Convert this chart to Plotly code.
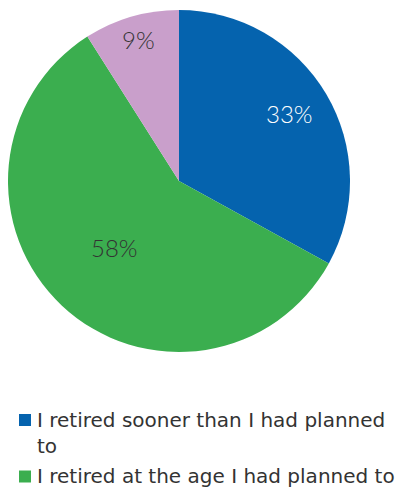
import math
import plotly.graph_objects as go

labels = [
    "I retired sooner than I had planned to",
    "I retired at the age I had planned to",
    "I retired later than I had planned to",
]
legend_text = [
    "I retired sooner than I had planned<br>to",
    "I retired at the age I had planned to",
    "I retired later than I had planned to",
]
values = [33, 58, 9]
colors = ["#0563AE", "#3BAE4F", "#C99FCB"]
text_colors = ["#FFFFFF", "#333333", "#333333"]
# how far out (fraction of radius) each percent label sits
label_radius = [0.75, 0.55, 0.85]

W, H = 404, 491
OFF = 8  # the page body adds an 8px margin, shift everything back by that

# pie box in pixels (as seen in the reference)
px0, px1, py0, py1 = 8, 350, 10, 352
cx, cy, R = (px0 + px1) / 2, (py0 + py1) / 2, (px1 - px0) / 2

fig = go.Figure(
    go.Pie(
        labels=labels,
        values=values,
        sort=False,
        direction="clockwise",
        rotation=0,
        marker=dict(colors=colors, line=dict(width=0)),
        textinfo="none",
        domain=dict(x=[(px0 - OFF) / W, (px1 - OFF) / W],
                    y=[1 - (py1 - OFF) / H, 1 - (py0 - OFF) / H]),
        showlegend=False,
        hoverinfo="label+percent",
    )
)

# percent labels, placed at each slice's middle angle
total = sum(values)
cum = 0
for v, tc, f in zip(values, text_colors, label_radius):
    mid = (cum + v / 2) / total * 2 * math.pi
    cum += v
    x = cx + f * R * math.sin(mid)
    y = cy - f * R * math.cos(mid)
    fig.add_annotation(
        text=f"{v}%", xref="paper", yref="paper",
        x=(x - OFF) / W, y=1 - (y - 2 - OFF) / H,
        xanchor="center", yanchor="middle", showarrow=False,
        font=dict(family="Lato", size=24, weight=300, color=tc),
    )

# legend drawn by hand: small square + label
item_y = [420, 476.5, 533]
for txt, col, yc in zip(legend_text, colors, item_y):
    fig.add_shape(
        type="rect", xref="paper", yref="paper",
        x0=(19 - OFF) / W, x1=(31 - OFF) / W,
        y0=1 - (yc + 6 - OFF) / H, y1=1 - (yc - 6 - OFF) / H,
        fillcolor=col, line=dict(width=0),
    )
    fig.add_annotation(
        text=txt, xref="paper", yref="paper",
        x=(35 - OFF) / W, y=1 - (yc - 14.5 - OFF) / H, xanchor="left", yanchor="top",
        align="left", showarrow=False,
        font=dict(family="DejaVu Sans", size=20, color="#333333"),
    )

fig.update_layout(
    width=W,
    height=H,
    margin=dict(l=0, r=0, t=0, b=0),
    paper_bgcolor="white",
    plot_bgcolor="white",
)
fig.write_html("out.html")
